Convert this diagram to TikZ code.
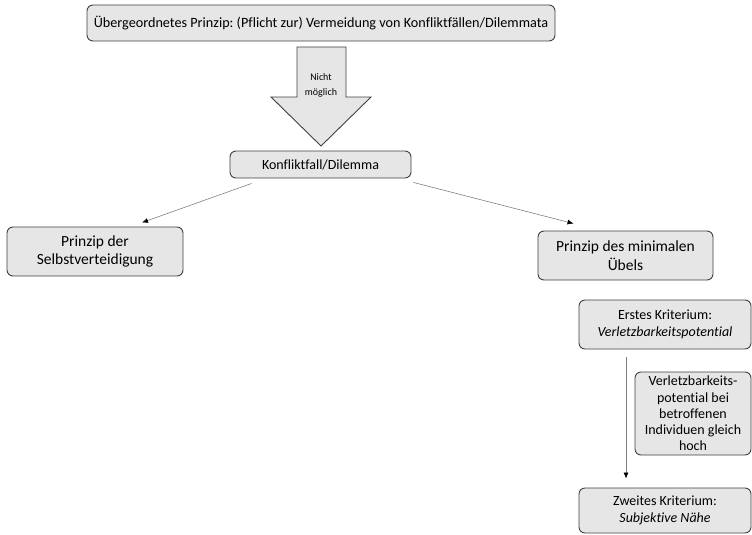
\documentclass[tikz,border=0pt]{standalone}
\usepackage{fontspec}
\setmainfont{Carlito}[Ligatures=NoCommon]
\usetikzlibrary{arrows.meta}
\definecolor{boxfill}{HTML}{E7E6E6}
\definecolor{boxline}{HTML}{404040}
\definecolor{arrline}{HTML}{808080}
\frenchspacing

\tikzset{
	prinzip/.style={draw=boxline, fill=boxfill, line width=0.9pt, rounded corners=6pt, align=center, inner sep=2pt},
	arr/.style={draw=arrline, line width=0.6pt, -{Latex[length=6pt,width=5pt,color=black]}}
}

\begin{document}
\begin{tikzpicture}[x=1pt,y=-1pt]
	\useasboundingbox (0,0) rectangle (752,535);
	% top
	\node [prinzip, minimum width=468pt, minimum height=36pt, font=\fontsize{14.2}{15}\selectfont] (oberprinzip) at (321,23) {Übergeordnetes Prinzip: (Pflicht zur) Vermeidung von Konfliktfällen/Dilemmata};
	% block arrow
	\draw [draw=boxline, fill=boxfill, line width=0.9pt] (297,47) -- (346,47) -- (346,97) -- (371,97) -- (321,146) -- (271,97) -- (297,97) -- cycle;
	\node [align=center, font=\fontsize{10}{15}\selectfont] (nicht) at (321,85) {Nicht\\möglich};
	% middle
	\node [prinzip, minimum width=181pt, minimum height=27pt, font=\fontsize{14}{15}\selectfont] (konflikt) at (320.5,164.5) {Konfliktfall/Dilemma};
	\node [prinzip, minimum width=176pt, minimum height=49pt, font=\fontsize{15.5}{18.5}\selectfont] (selbst) at (95,251.5) {Prinzip der\\Selbstverteidigung};
	\node [prinzip, minimum width=175pt, minimum height=49pt, font=\fontsize{15.5}{18.5}\selectfont] (uebel) at (625.5,255.5) {Prinzip des minimalen\\Übels};
	% criteria
	\node [prinzip, minimum width=172pt, minimum height=49pt, font=\fontsize{14}{16.5}\selectfont] (erstes) at (665,324.5) {Erstes Kriterium:\\\textit{Verletzbarkeitspotential}};
	\node [prinzip, minimum width=116pt, minimum height=83pt, font=\fontsize{14}{16.3}\selectfont] (gleich) at (693,413.5) {Verletzbarkeits-\\potential bei\\betroffenen\\Individuen gleich\\hoch};
	\node [prinzip, minimum width=172pt, minimum height=45pt, font=\fontsize{14}{17}\selectfont] (zweites) at (665,510.5) {Zweites Kriterium:\\\textit{Subjektive Nähe}};
	% connectors
	\draw [arr] ([xshift=22pt,yshift=-5pt]konflikt.south west) -- ([xshift=47pt,yshift=4pt]selbst.north);
	\draw [arr] ([xshift=2pt,yshift=-4pt]konflikt.south east) -- ([xshift=-52pt,yshift=7pt]uebel.north);
	\draw [arr] ([xshift=-39pt,yshift=-8pt]erstes.south) -- ([xshift=-39pt,yshift=9pt]zweites.north);
\end{tikzpicture}
\end{document}
